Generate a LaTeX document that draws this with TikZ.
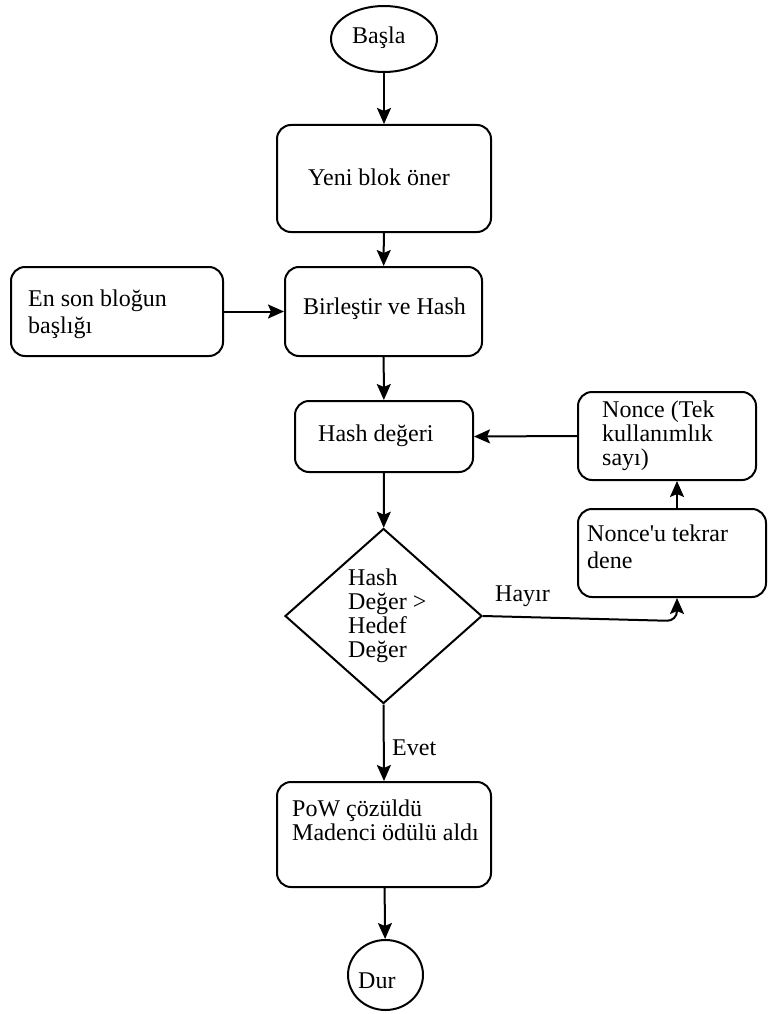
\documentclass[tikz,border=0pt]{standalone}
\usepackage{fontspec}
\setmainfont{Liberation Serif}
\newfontfamily\rawserif{Liberation Serif}
\usetikzlibrary{shapes.geometric,arrows.meta}
\begin{document}
\begin{tikzpicture}[x=1pt,y=-1pt,
  every node/.style={font=\fontsize{24}{24}\selectfont},
  box/.style={draw,line width=2pt,rounded corners=14pt,inner sep=0pt},
  oval/.style={draw,ellipse,line width=2pt,inner sep=0pt},
  dia/.style={draw,diamond,line width=2pt,inner sep=0pt},
  txt/.style={inner sep=0pt,anchor=base west,align=left},
  arr/.style={line width=2pt,-{Stealth[length=16pt,width=14pt,inset=3pt]}}]
\useasboundingbox (0,0) rectangle (768,1014);
% shapes
\node[oval,minimum width=106pt,minimum height=66pt] (start) at (384,39) {};
\node[box,minimum width=214pt,minimum height=107pt] (yeni) at (384,178.5) {};
\node[box,minimum width=197pt,minimum height=89pt] (birl) at (383.5,311.5) {};
\node[box,minimum width=212pt,minimum height=89pt] (enson) at (117,311.5) {};
\node[box,minimum width=178pt,minimum height=71pt] (hashd) at (384,436.5) {};
\node[box,minimum width=178pt,minimum height=88pt] (nonce) at (667,436) {};
\node[box,minimum width=188pt,minimum height=88pt] (tekrar) at (672,553) {};
\node[dia,minimum width=197pt,minimum height=175pt] (karar) at (383.5,616) {};
\node[box,minimum width=214pt,minimum height=105pt] (pow) at (384,834.5) {};
\node[oval,minimum width=75pt,minimum height=70pt] (dur) at (385.5,975) {};
% texts
\node[txt] (tstart) at (352,44) {Başla};
\node[txt] (tyeni) at (308,185) {Yeni blok öner};
\node[txt] (tbirl) at (303,314) {Birleştir ve Hash};
\node[txt,font=\fontsize{24}{27}\selectfont] (tenson) at (28,333) {En son bloğun\\başlığı};
\node[txt] (thashd) at (318,441.7) {Hash değeri};
\node[txt] (tnonce) at (602,465) {Nonce (Tek\\kullanımlık\\sayı)};
\node[txt,font=\fontsize{24}{26.5}\selectfont\rawserif] (ttekrar) at (587,568) {Nonce'u tekrar\\dene};
\node[txt] (tkarar) at (348,657) {Hash\\Değer >\\Hedef\\Değer};
\node[txt] (thayir) at (495,601.7) {Hayır};
\node[txt] (tevet) at (392,755) {Evet};
\node[txt] (tpow) at (292,840.7) {PoW çözüldü\\Madenci ödülü aldı};
\node[txt] (tdur) at (358,988) {Dur};
% connectors
\coordinate (hc) at (677,621);
\draw[arr] (start) -- (yeni);
\draw[arr] (yeni) -- (birl);
\draw[arr] (enson) -- (birl);
\draw[arr] (birl) -- (hashd);
\draw[arr] (nonce.west) -- (hashd.east);
\draw[arr] ([xshift=5pt]tekrar.north) -- ([xshift=10pt]nonce.south);
\draw[arr] (hashd) -- (karar);
\draw[arr,rounded corners=10pt] (karar.east) -- (hc) -- ([xshift=5pt]tekrar.south);
\draw[arr] (karar.south) -- (pow.north);
\draw[arr] (pow) -- (dur);
\end{tikzpicture}
\end{document}
